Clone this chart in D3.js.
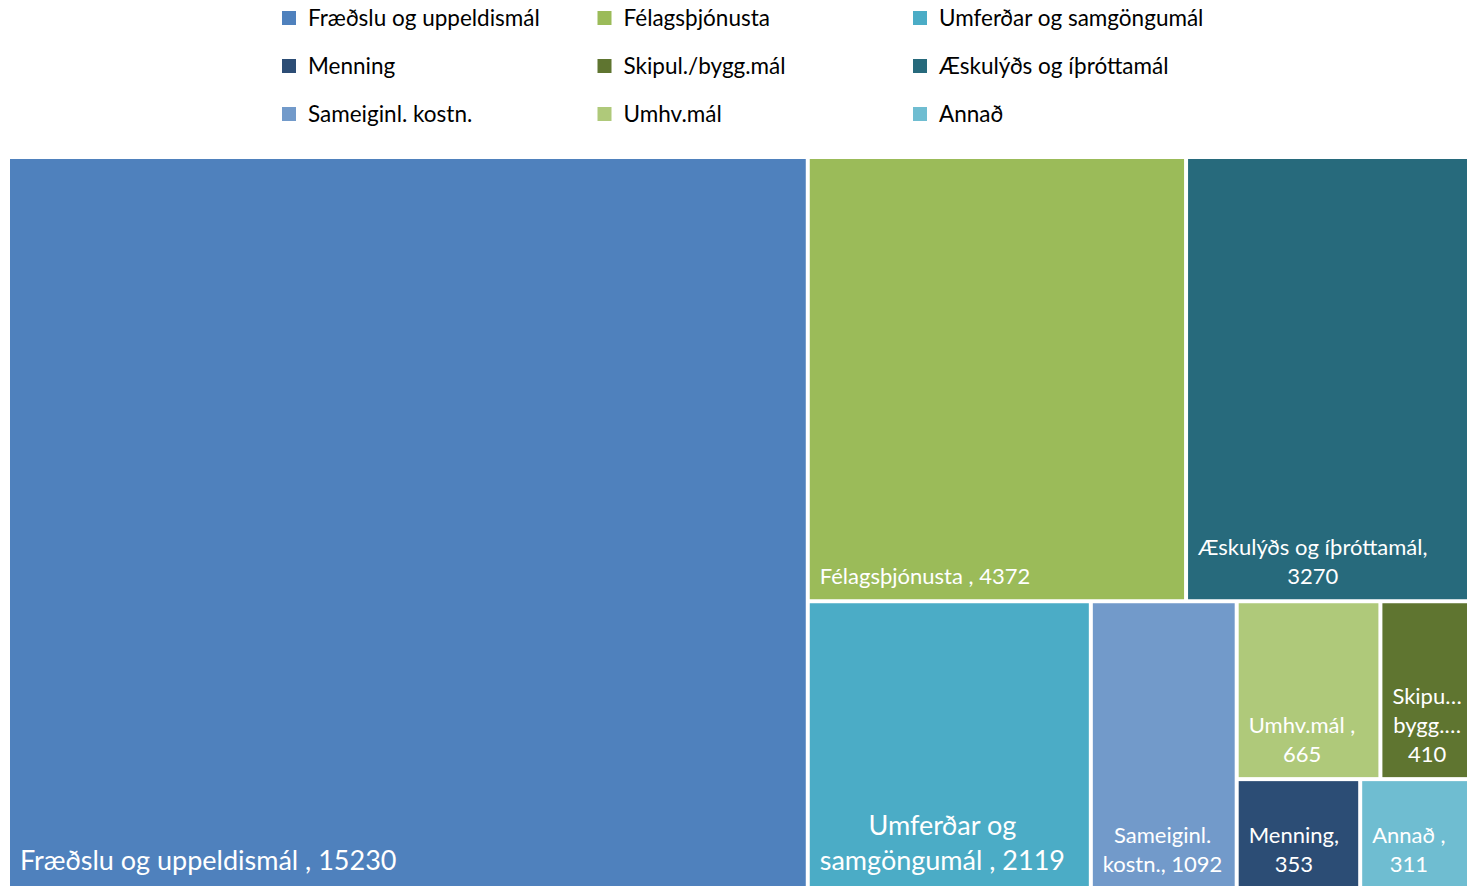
<!DOCTYPE html>
<html>
<head>
<meta charset="utf-8">
<script src="https://cdn.jsdelivr.net/npm/d3@7"></script>
<style>
  body { margin: 0; background: #fff; }
  svg { display: block; font-family: Lato, "Open Sans", sans-serif; }
</style>
</head>
<body>
<svg></svg>
<script>
/* data */
var categories = ["Fræðslu og uppeldismál ", "Félagsþjónusta ", "Æskulýðs og íþróttamál", "Umferðar og samgöngumál ",
                  "Sameiginl. kostn.", "Umhv.mál ", "Skipul./bygg.mál ", "Menning", "Annað "];
var values = [15230, 4372, 3270, 2119, 1092, 665, 410, 353, 311];
var legendOrder = ["Fræðslu og uppeldismál", "Félagsþjónusta", "Umferðar og samgöngumál",
                   "Menning", "Skipul./bygg.mál", "Æskulýðs og íþróttamál",
                   "Sameiginl. kostn.", "Umhv.mál", "Annað"];
var colors = ["#4F81BD", "#9BBB59", "#4BACC6", "#2C4D75", "#5F7530", "#276A7C", "#729ACA", "#AFC97A", "#6FBDD1"];
var bigLabels = ["Fræðslu og uppeldismál", "Umferðar og samgöngumál"];

/* svg setting */
var svgWidth = 1478;
var svgHeight = 886;
var margin = {top: 159, right: 11, bottom: -1, left: 10};
var width = svgWidth - margin.left - margin.right;
var height = svgHeight - margin.top - margin.bottom;
var legendFont = 22.5;
var smallFont = 22;
var bigFont = 27;

var svg = d3.select("svg")
    .attr("width", svgWidth)
    .attr("height", svgHeight);

var color = d3.scaleOrdinal().domain(legendOrder).range(colors);

/* legend, 3 x 3 grid */
var legendX = d3.scalePoint().domain([0, 1, 2]).range([282, 913]);
var legendY = d3.scalePoint().domain([0, 1, 2]).range([18, 114]);

var legend = svg.append("g").attr("class", "legend")
  .selectAll("g")
  .data(legendOrder)
  .enter()
  .append("g")
    .attr("transform", function(d, i){ return translate(legendX(i % 3), legendY(Math.floor(i / 3))); });

legend.append("rect")
    .attr("x", 0).attr("y", -7)
    .attr("width", 14).attr("height", 14)
    .attr("fill", function(d){ return color(d); });

legend.append("text")
    .attr("x", 26).attr("y", 7.5)
    .attr("font-size", legendFont)
    .attr("fill", "#000")
    .text(function(d){ return d; });

/* treemap */
var root = d3.hierarchy({children: categories.map(function(c, i){ return {name: c, value: values[i]}; })})
    .sum(function(d){ return d.value || 0; });

d3.treemap()
    .tile(d3.treemapSquarify.ratio(1))
    .size([width, height])
    .paddingInner(4)(root);

var plot = svg.append("g").attr("transform", translate(margin.left, margin.top));

var cell = plot.selectAll("g")
  .data(root.leaves())
  .enter()
  .append("g");

cell.append("rect")
    .attr("x", function(d){ return d.x0; })
    .attr("y", function(d){ return d.y0; })
    .attr("width", function(d){ return d.x1 - d.x0; })
    .attr("height", function(d){ return d.y1 - d.y0; })
    .attr("fill", function(d){ return color(d.data.name.trim()); });

// hidden text to measure label widths
var measure = svg.append("text").attr("visibility", "hidden");
function textWidth(s, size){
  measure.attr("font-size", size).text(s);
  return measure.node().getComputedTextLength();
}

function wrapLabel(label, maxW, size){
  // the comma sticks to the word before it; break on spaces and after slashes
  var marked = label.replace(/ ,/g, "\u00A0,").replace(/\//g, "/\u0000");
  var tokens = marked.split(/ |\u0000/);
  var seps = [];
  marked.replace(/ |\u0000/g, function(m){ seps.push(m === " " ? " " : ""); return m; });
  var lines = [];
  var cur = tokens[0];
  for(var i = 1; i < tokens.length; i++){
    var trial = cur + seps[i - 1] + tokens[i];
    if(textWidth(trial.trim(), size) <= maxW){
      cur = trial;
    } else {
      lines.push(cur.trim());
      cur = tokens[i];
    }
  }
  lines.push(cur.trim());
  // truncate lines that are still too long
  return lines.filter(function(l){ return l.length; }).map(function(l){
    if(textWidth(l, size) <= maxW) return l;
    var s = l;
    while(s.length > 1 && textWidth(s + "…", size) > maxW) s = s.slice(0, -1);
    return s + "…";
  });
}

cell.each(function(d){
  var g = d3.select(this);
  var big = bigLabels.indexOf(d.data.name.trim()) >= 0;
  var size = big ? bigFont : smallFont;
  var lineH = big ? 35 : 29;
  var w = d.x1 - d.x0;
  var label = d.data.name + ", " + d.data.value;
  var lines = wrapLabel(label, w - 15, size);
  var blockW = d3.max(lines, function(l){ return textWidth(l, size); });
  var cx = d.x0 + 10 + blockW / 2;
  var lastY = d.y1 - (big ? 17 : 15);
  g.append("text")
      .attr("font-size", size)
      .attr("fill", "#fff")
      .attr("text-anchor", "middle")
    .selectAll("tspan")
    .data(lines)
    .enter()
    .append("tspan")
      .attr("x", cx)
      .attr("y", function(l, i){ return lastY - (lines.length - 1 - i) * lineH; })
      .text(function(l){ return l; });
});

measure.remove();

function translate(x, y) {
  return "translate(" + x + "," + y + ")";
}
</script>
</body>
</html>
